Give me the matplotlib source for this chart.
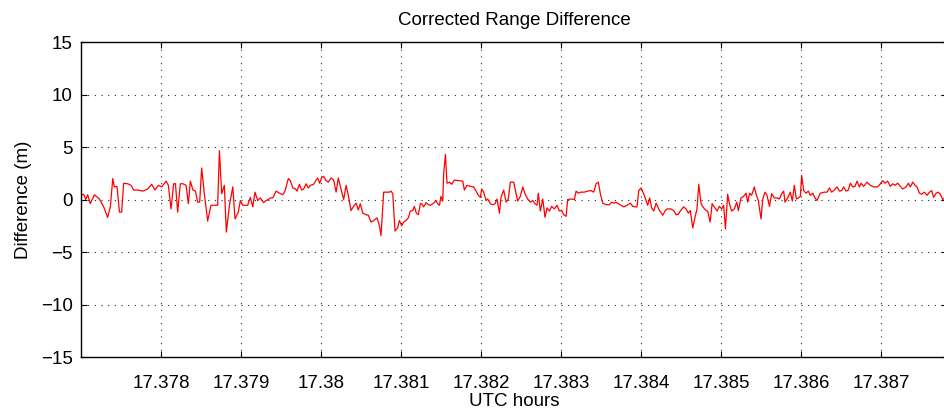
import numpy as np
import matplotlib
matplotlib.use('Agg')
import matplotlib.pyplot as plt
from matplotlib.ticker import FixedLocator, FormatStrFormatter

plt.rcParams['font.family'] = ['Liberation Sans', 'DejaVu Sans']

# time in seconds after 17.377 UTC hours, corrected range difference in metres
t_sec = [
    0.00, 0.12, 0.21, 0.30, 0.42, 0.60, 0.83, 1.02, 1.20, 1.32, 1.43, 1.50, 1.62, 1.73, 1.83,
    1.92, 2.10, 2.25, 2.37, 2.55, 2.78, 3.00, 3.18, 3.33, 3.48, 3.63, 3.83, 3.93, 4.05, 4.17,
    4.25, 4.35, 4.47, 4.58, 4.73, 4.83, 4.92, 5.04, 5.15, 5.25, 5.34, 5.43, 5.55, 5.70, 5.85,
    6.00, 6.15, 6.23, 6.33, 6.45, 6.54, 6.68, 6.83, 6.93, 7.08, 7.17, 7.28, 7.50, 7.62, 7.73,
    7.83, 7.95, 8.07,
    8.22, 8.33, 8.43, 8.52, 8.63, 8.78, 8.93, 9.08, 9.18, 9.33, 9.42, 9.53, 9.65, 9.72, 9.83,
    9.93, 10.02, 10.13, 10.23, 10.32, 10.47, 10.58, 10.65, 10.74, 10.83, 10.92, 11.03, 11.13,
    11.25, 11.37, 11.48, 11.58, 11.70, 11.82, 11.93, 12.03, 12.15, 12.27, 12.38, 12.48, 12.57,
    12.68, 12.83, 12.93, 13.05, 13.17, 13.32, 13.43, 13.50, 13.62, 13.73, 13.88, 13.95, 14.03,
    14.13, 14.25, 14.33, 14.43, 14.52, 14.63, 14.73, 14.82, 14.93, 15.00, 15.09, 15.18, 15.27,
    15.33, 15.42, 15.53, 15.63, 15.72,
    15.87, 15.98, 16.05, 16.13, 16.20, 16.28, 16.32, 16.40, 16.47, 16.58, 16.68, 16.80, 16.98,
    17.18, 17.25, 17.37, 17.52, 17.67, 17.78, 17.88, 17.97, 18.03, 18.12, 18.23, 18.30, 18.42,
    18.53, 18.63, 18.72, 18.83, 18.90, 19.02, 19.13, 19.23, 19.32, 19.47, 19.65, 19.77, 19.88,
    19.98, 20.10, 20.22, 20.33, 20.43, 20.52, 20.58, 20.67, 20.78, 20.88, 20.97, 21.08, 21.18,
    21.30, 21.42, 21.53, 21.63, 21.72, 21.83, 21.90, 22.05, 22.20, 22.28, 22.38, 22.50, 22.65,
    22.80, 22.95, 23.07, 23.18, 23.28, 23.37,
    23.48, 23.63, 23.78, 23.88, 23.97, 24.08, 24.18, 24.30, 24.42, 24.57, 24.72, 24.83, 24.93,
    25.02, 25.10, 25.20, 25.32, 25.43, 25.50, 25.59, 25.68, 25.77, 25.88, 26.03, 26.18, 26.28,
    26.37, 26.55, 26.67, 26.78, 26.88, 27.00, 27.12, 27.23, 27.33, 27.42, 27.53, 27.63, 27.72,
    27.80, 27.90, 28.02, 28.13, 28.20, 28.31, 28.40, 28.50, 28.62, 28.73, 28.83, 28.92, 29.00,
    29.10, 29.18, 29.28, 29.40, 29.51, 29.58, 29.70, 29.82, 29.93, 30.00, 30.09, 30.18, 30.30,
    30.39, 30.48, 30.60, 30.68, 30.78, 30.87, 30.98,
    31.08, 31.20, 31.32, 31.43, 31.53, 31.62, 31.68, 31.80, 31.92, 32.01, 32.10, 32.19, 32.28,
    32.37, 32.43, 32.52, 32.63, 32.73, 32.82, 32.93, 33.03, 33.12, 33.27, 33.45, 33.57, 33.68,
    33.78, 33.90, 34.02, 34.13, 34.23, 34.32, 34.43, 34.53, 34.62, 34.73, 34.83, 34.92, 35.03,
    35.10, 35.22, 35.37, 35.52, 35.67, 35.85, 35.97, 36.08, 36.18, 36.30, 36.42, 36.53, 36.63,
    36.75, 36.87, 36.98, 37.13, 37.23, 37.32, 37.43, 37.53, 37.62, 37.73, 37.83, 37.95, 38.07,
    38.18, 38.28, 38.37, 38.48, 38.58, 38.67, 38.78, 38.88,
]
diff_m = [
    0.4, 0.5, 0.0, 0.45, -0.4, 0.45, 0.05, -0.7, -1.7, -0.7, 2.0, 1.2, 1.25, -1.2, -1.2,
    1.55, 1.5, 1.35, 0.9, 0.9, 0.8, 1.0, 1.45, 0.9, 1.35, 1.2, 1.75, 1.35, -0.9, 1.5,
    1.5, -1.2, 1.5, 1.5, 1.35, -0.4, 1.75, 0.9, 0.8, -0.25, -0.25, 3.0, 0.55, -2.05, -0.55,
    -0.55, -0.55, 4.65, 0.55, 1.35, -3.1, -0.55, 1.2, -1.85, -1.2, -0.1, -0.55, -0.55, 0.2, -0.7,
    0.7, -0.1, 0.15,
    -0.3, -0.1, 0.0, 0.15, 0.15, 0.8, 0.6, 0.45, 0.8, 2.0, 1.8, 1.1, 1.0, 0.8, 1.45,
    0.9, 1.0, 1.5, 1.1, 1.35, 1.45, 1.85, 2.05, 1.55, 2.1, 2.2, 1.8, 1.65,
    2.05, 1.85, 0.7, 2.05, 1.0, 0.0, 1.35, 0.4, -1.05, -0.65, -0.35, -1.0, -0.4,
    -1.3, -1.45, -1.5, -2.15, -2.0, -1.75, -2.5, -3.45, 0.7, 0.7, 0.7, 0.8, 0.55,
    -3.0, -2.7, -2.0, -2.5, -2.15, -2.0, -1.75, -1.1, -1.05, -0.65, -1.3, -1.45, -0.4,
    -0.4, -0.7, -0.3, -0.5, -0.55,
    -0.35, -0.1, -0.4, -0.55, 0.3, -0.15, 2.45, 4.3, 1.55, 1.65, 1.45, 1.85, 1.8,
    1.75, 0.9, 1.35, 1.25, 1.2, 0.8, 0.4, 0.2, 1.0, 0.7, -0.1, 0.05, -0.4,
    -0.5, -0.4, 0.05, -1.3, 0.2, 0.9, -0.25, 0.05, 1.65, 1.65, -0.15, 0.3, 1.2,
    0.55, 0.05, -0.25, -0.1, -0.4, -0.55, 0.6, -1.1, 0.05, -1.7, -0.8, -1.1, -0.65,
    -0.9, -0.55, -1.1, -1.05, -1.45, -1.6, 0.0, 0.05, 0.0, 0.8, 0.6, 0.7, 0.7,
    0.8, 0.85, 0.7, 1.5, 1.65, 0.55,
    -0.35, -0.5, -0.5, -0.25, -0.35, -0.25, -0.4, -0.55, -0.7, -0.55, -0.35, -0.65, -0.7,
    -0.7, 0.85, 1.1, 0.55, -0.1, -0.55, 0.15, -0.8, -1.1, -0.35, -1.05, -1.5, -1.1,
    -0.9, -0.9, -1.05, -1.45, -1.4, -1.0, -0.7, -0.9, -1.3, -1.05, -2.7, -1.7, -0.9,
    1.45, -0.4, -0.8, -1.05, -1.1, -2.15, -0.4, -0.7, -1.1, -0.65, -0.9, -0.55, -2.8,
    0.5, -0.4, -1.1, -0.9, -0.25, -1.05, 0.15, 0.3, 0.6, -0.25, 0.6, 0.4, 1.2,
    0.4, -0.1, -1.85, 0.05, 0.7, 0.4, -0.65,
    0.55, 0.15, 0.15, 0.05, 0.55, 0.8, -0.25, 0.15, 0.7, -0.15, 1.35, 0.05, 0.15,
    0.3, 2.3, 0.85, 0.6, 0.8, 0.4, 0.6, 0.15, -0.1, 0.6, 0.7, 0.7, 1.1,
    0.7, 0.9, 1.2, 0.8, 0.85, 1.2, 0.8, 0.9, 1.55, 1.2, 1.25, 1.75, 1.2,
    1.55, 1.25, 1.65, 1.35, 1.2, 1.2, 1.5, 1.8, 1.55, 1.75, 1.25, 1.5, 1.35,
    1.55, 1.25, 1.0, 1.2, 1.55, 1.2, 1.65, 1.35, 1.2, 0.6, 0.5, 0.7, 0.4,
    0.7, 0.85, 0.2, 0.6, 0.7, 0.5, 0.0, 0.15,
]

t0_hours = 17.377
x_ticks = [17.378, 17.379, 17.380, 17.381, 17.382, 17.383, 17.384, 17.385, 17.386, 17.387]
y_ticks = [-15, -10, -5, 0, 5, 10, 15]

hours = t0_hours + np.array(t_sec) / 3600.0

fig = plt.figure(figsize=(9.45, 4.11), dpi=100)
ax = fig.add_axes([81 / 945, 54 / 411, 866 / 945, 315 / 411])

ax.plot(hours, diff_m, color='red', lw=0.9)

ax.set_xlim(t0_hours, t0_hours + 38.97 / 3600.0)
ax.set_ylim(-15, 15)
ax.xaxis.set_major_locator(FixedLocator(x_ticks))
ax.xaxis.set_major_formatter(FormatStrFormatter('%g'))
ax.set_yticks(y_ticks)

ax.grid(True, color='0.15', linestyle=(0, (1, 5)), lw=0.8)
ax.tick_params(direction='in', length=4, width=0.8, top=True, right=True,
               labelsize=13.5)
ax.tick_params(axis='x', pad=13)
ax.tick_params(axis='y', pad=6)
for s in ax.spines.values():
    s.set_linewidth(1.0)

ax.set_title('Corrected Range Difference', fontsize=13.5, pad=12)
ax.set_xlabel('UTC hours', fontsize=13.5, labelpad=1)
ax.set_ylabel('Difference (m)', fontsize=13.5, labelpad=6)

fig.savefig('out.png', dpi=100)
